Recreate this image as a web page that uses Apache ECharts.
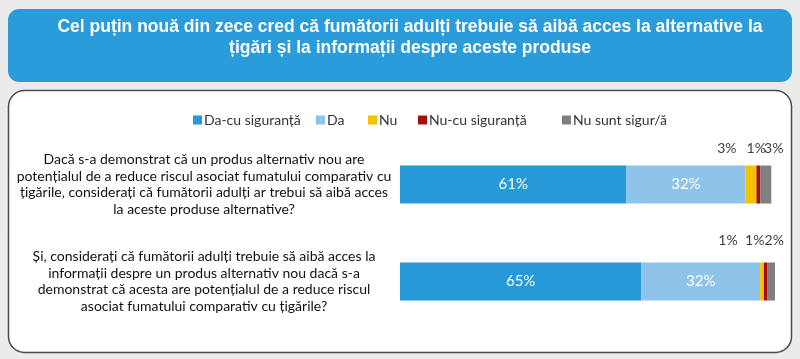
<!DOCTYPE html>
<html><head><meta charset="utf-8">
<script src="https://cdn.jsdelivr.net/npm/echarts@6/dist/echarts.min.js"></script>
<style>html,body{margin:0;padding:0;background:#ebebeb;}#c{width:800px;height:359px;}</style>
</head><body><div id="c"></div>
<script>
const titleText = 'Cel puțin nouă din zece cred că fumătorii adulți trebuie să aibă acces la alternative la\nțigări și la informații despre aceste produse';
const categories = [
  'Dacă s-a demonstrat că un produs alternativ nou are\npotențialul de a reduce riscul asociat fumatului comparativ cu\nțigările, considerați că fumătorii adulți ar trebui să aibă acces\nla aceste produse alternative?',
  'Și, considerați că fumătorii adulți trebuie să aibă acces la\ninformații despre un produs alternativ nou dacă s-a\ndemonstrat că acesta are potențialul de a reduce riscul\nasociat fumatului comparativ cu țigările?'
];
const seriesNames = ['Da-cu siguranță', 'Da', 'Nu', 'Nu-cu siguranță', 'Nu sunt sigur/ă'];
const daCuSiguranta = [61, 65];
const da = [32, 32];
const nu = [3, 1];
const nuCuSiguranta = [1, 1];
const nuSuntSigur = [3, 2];

const values = [daCuSiguranta, da, nu, nuCuSiguranta, nuSuntSigur];
const colors = ['#2899d8', '#8ec3ea', '#f7c000', '#a50f12', '#7f7f7f'];
// label offsets for small outside labels (style only)
const outsideOffsets = [null, null, [[-24, 0], [-34, -5]], [[-2, 0], [-11, -5]], [[8, 0], [3, -5]]];
const legendLeft = [193, 316, 368, 418, 562];
const FONT = 'Lato';

const series = seriesNames.map((name, i) => {
  const inside = i < 2;
  return {
    name, type: 'bar', stack: 'total', barWidth: 38,
    itemStyle: { color: colors[i] },
    emphasis: { disabled: true },
    label: inside ? {
      show: true, position: 'inside', color: '#ffffff', fontFamily: FONT, fontSize: 15,
      formatter: p => p.value + '%'
    } : {
      show: true, position: 'top', distance: 10, color: '#404040', fontFamily: FONT, fontSize: 14,
      formatter: p => p.value + '%'
    },
    data: values[i].map((v, j) => inside ? v : { value: v, label: { offset: outsideOffsets[i][j] } })
  };
});

const chart = echarts.init(document.getElementById('c'));
chart.setOption({
  backgroundColor: '#ebebeb',
  animation: false,
  graphic: [
    { type: 'rect', shape: { x: 8, y: 9, width: 784, height: 73, r: 11 }, style: { fill: '#2a9bdb' }, z: -10 },
    { type: 'rect', shape: { x: 8.5, y: 90.5, width: 783, height: 262, r: 16 }, style: { fill: '#ffffff', stroke: '#4a4a4a', lineWidth: 1.5 }, z: -10 },
    { type: 'text', x: 410, y: 17, style: { text: titleText, fill: '#ffffff', font: 'bold 17.5px "Liberation Sans"', lineHeight: 21, align: 'center', verticalAlign: 'top' }, z: 10, silent: true }
  ],
  legend: seriesNames.map((n, i) => ({
    data: [n], left: legendLeft[i], top: 113, icon: 'rect', itemWidth: 9, itemHeight: 9, itemGap: 0,
    textStyle: { fontFamily: FONT, fontSize: 14, color: '#333333', padding: [0, 0, 0, -3] },
    selectedMode: false, padding: 0
  })),
  grid: { left: 400, top: 136, width: 375, height: 194, containLabel: false },
  xAxis: { type: 'value', min: 0, max: 101, show: false },
  yAxis: {
    type: 'category', data: categories, inverse: true,
    axisLine: { show: false }, axisTick: { show: false },
    axisLabel: { align: 'center', margin: 196, fontFamily: FONT, fontSize: 14, lineHeight: 16.5, color: '#111111' }
  },
  series
});
</script></body></html>
